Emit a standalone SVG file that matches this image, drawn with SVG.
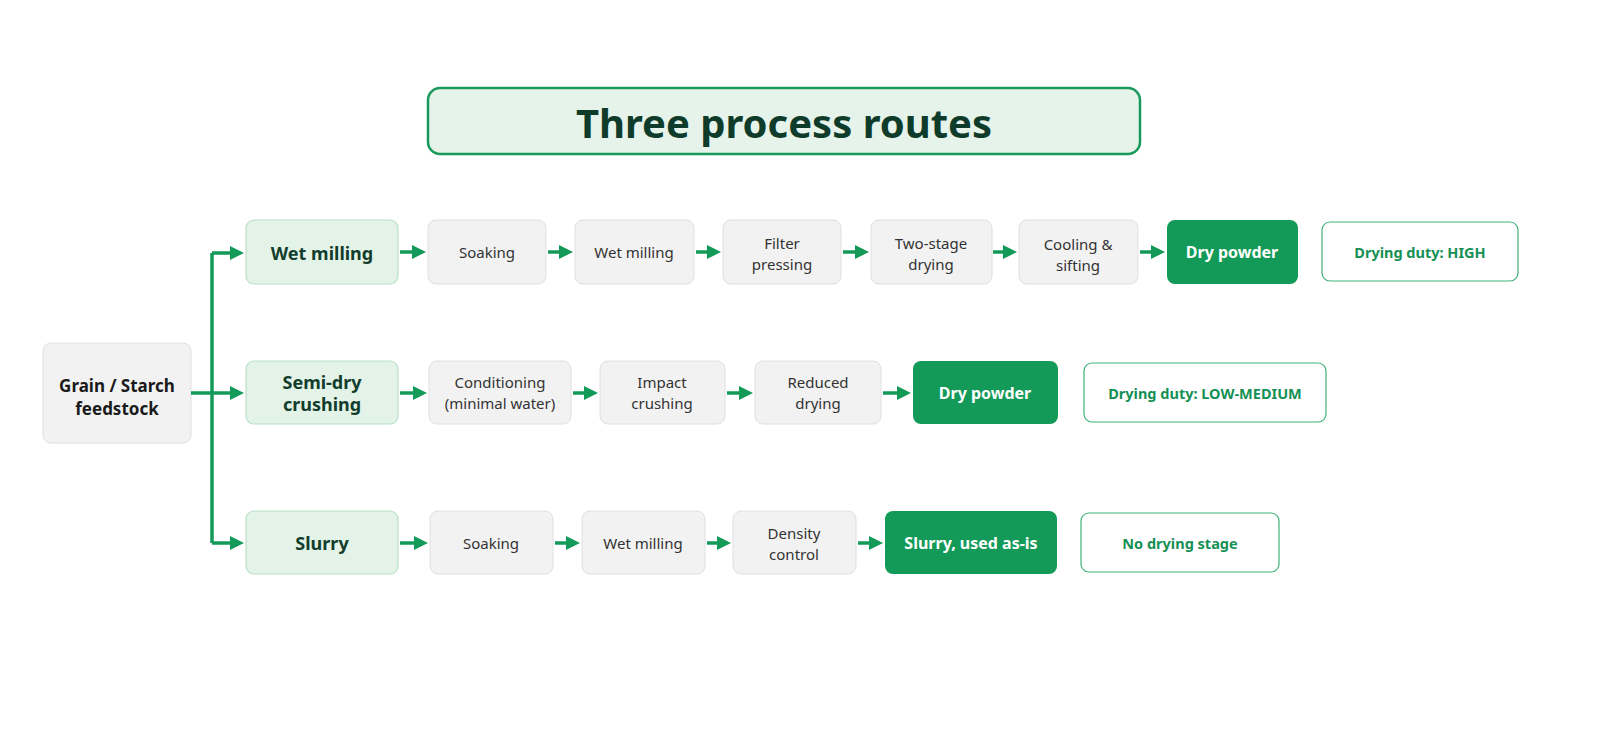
<svg xmlns="http://www.w3.org/2000/svg" width="1600" height="744" viewBox="0 0 1600 744">
<style>
text{font-family:"Noto Sans","Open Sans","Liberation Sans",sans-serif;text-anchor:middle;dominant-baseline:central}
.g rect{fill:#f2f2f2;stroke:#e0e0e0;stroke-width:1}
.g text{font-size:15px;fill:#333}
.r rect{fill:#e3f3e8;stroke:#b9e0c8;stroke-width:1.2}
.r text{font-size:18px;font-weight:bold;fill:#123d2c}
.d rect{fill:#139a58;stroke:none}
.d text{font-size:16px;font-weight:bold;fill:#fff}
.n rect{fill:#fff;stroke:#3fb27a;stroke-width:1.2}
.n text{font-size:14.5px;font-weight:bold;fill:#159055}
.c line,.c path{stroke:#139a58;stroke-width:3.5;fill:none}
</style>
<defs><marker id="a" markerWidth="4" markerHeight="4" refX="2" refY="2" orient="auto"><path d="M0,0L4,2L0,4z" fill="#139a58"/></marker></defs>
<rect width="1600" height="744" fill="#fff"/>
<g id="title"><rect x="428" y="88" width="712" height="66" rx="12" fill="#e6f3ea" stroke="#1a9a5a" stroke-width="2.5"/><text x="784" y="122" font-size="40" font-weight="bold" fill="#0f3b2b">Three process routes</text></g>
<g id="feed" class="g"><rect x="43" y="343" width="148" height="100" rx="8"/><text x="117" y="385" style="font-size:17px;font-weight:bold;fill:#1a1a1a">Grain / Starch</text><text x="117" y="408" style="font-size:17px;font-weight:bold;fill:#1a1a1a">feedstock</text></g>
<g class="c" id="connectors">
<path d="M191,393H212M212,253V543"/>
<line x1="212" y1="253" x2="237" y2="253" marker-end="url(#a)"/>
<line x1="212" y1="393" x2="237" y2="393" marker-end="url(#a)"/>
<line x1="212" y1="543" x2="237" y2="543" marker-end="url(#a)"/>
<line x1="400" y1="252" x2="419" y2="252" marker-end="url(#a)"/>
<line x1="548" y1="252" x2="566" y2="252" marker-end="url(#a)"/>
<line x1="696" y1="252" x2="714" y2="252" marker-end="url(#a)"/>
<line x1="843" y1="252" x2="862" y2="252" marker-end="url(#a)"/>
<line x1="993" y1="252" x2="1010" y2="252" marker-end="url(#a)"/>
<line x1="1140" y1="252" x2="1158" y2="252" marker-end="url(#a)"/>
<line x1="400" y1="393" x2="420" y2="393" marker-end="url(#a)"/>
<line x1="573" y1="393" x2="591" y2="393" marker-end="url(#a)"/>
<line x1="727" y1="393" x2="746" y2="393" marker-end="url(#a)"/>
<line x1="883" y1="393" x2="904" y2="393" marker-end="url(#a)"/>
<line x1="400" y1="543" x2="421" y2="543" marker-end="url(#a)"/>
<line x1="555" y1="543" x2="573" y2="543" marker-end="url(#a)"/>
<line x1="707" y1="543" x2="724" y2="543" marker-end="url(#a)"/>
<line x1="858" y1="543" x2="876" y2="543" marker-end="url(#a)"/>
</g>
<g id="r1" class="r"><rect x="246" y="220" width="152" height="64" rx="8"/><text x="322" y="253">Wet milling</text></g>
<g id="r1a" class="g"><rect x="428" y="220" width="118" height="64" rx="8"/><text x="487" y="252">Soaking</text></g>
<g id="r1b" class="g"><rect x="575" y="220" width="119" height="64" rx="8"/><text x="634" y="252">Wet milling</text></g>
<g id="r1c" class="g"><rect x="723" y="220" width="118" height="64" rx="8"/><text x="782" y="243">Filter</text><text x="782" y="264">pressing</text></g>
<g id="r1d" class="g"><rect x="871" y="220" width="121" height="64" rx="8"/><text x="931" y="243">Two-stage</text><text x="931" y="264">drying</text></g>
<g id="r1e" class="g"><rect x="1019" y="220" width="119" height="64" rx="8"/><text x="1078" y="244">Cooling &amp;</text><text x="1078" y="265">sifting</text></g>
<g id="r1f" class="d"><rect x="1167" y="220" width="131" height="64" rx="8"/><text x="1232" y="252">Dry powder</text></g>
<g id="r1n" class="n"><rect x="1322" y="222" width="196" height="59" rx="8"/><text x="1420" y="252">Drying duty: HIGH</text></g>
<g id="r2" class="r"><rect x="246" y="361" width="152" height="63" rx="8"/><text x="322" y="382">Semi-dry</text><text x="322" y="404">crushing</text></g>
<g id="r2a" class="g"><rect x="429" y="361" width="142" height="63" rx="8"/><text x="500" y="382">Conditioning</text><text x="500" y="403">(minimal water)</text></g>
<g id="r2b" class="g"><rect x="600" y="361" width="125" height="63" rx="8"/><text x="662" y="382">Impact</text><text x="662" y="403">crushing</text></g>
<g id="r2c" class="g"><rect x="755" y="361" width="126" height="63" rx="8"/><text x="818" y="382">Reduced</text><text x="818" y="403">drying</text></g>
<g id="r2d" class="d"><rect x="913" y="361" width="145" height="63" rx="8"/><text x="985" y="393">Dry powder</text></g>
<g id="r2n" class="n"><rect x="1084" y="363" width="242" height="59" rx="8"/><text x="1205" y="393">Drying duty: LOW-MEDIUM</text></g>
<g id="r3" class="r"><rect x="246" y="511" width="152" height="63" rx="8"/><text x="322" y="543">Slurry</text></g>
<g id="r3a" class="g"><rect x="430" y="511" width="123" height="63" rx="8"/><text x="491" y="543">Soaking</text></g>
<g id="r3b" class="g"><rect x="582" y="511" width="123" height="63" rx="8"/><text x="643" y="543">Wet milling</text></g>
<g id="r3c" class="g"><rect x="733" y="511" width="123" height="63" rx="8"/><text x="794" y="533">Density</text><text x="794" y="554">control</text></g>
<g id="r3d" class="d"><rect x="885" y="511" width="172" height="63" rx="8"/><text x="971" y="543">Slurry, used as-is</text></g>
<g id="r3n" class="n"><rect x="1081" y="513" width="198" height="59" rx="8"/><text x="1180" y="543">No drying stage</text></g>
</svg>
